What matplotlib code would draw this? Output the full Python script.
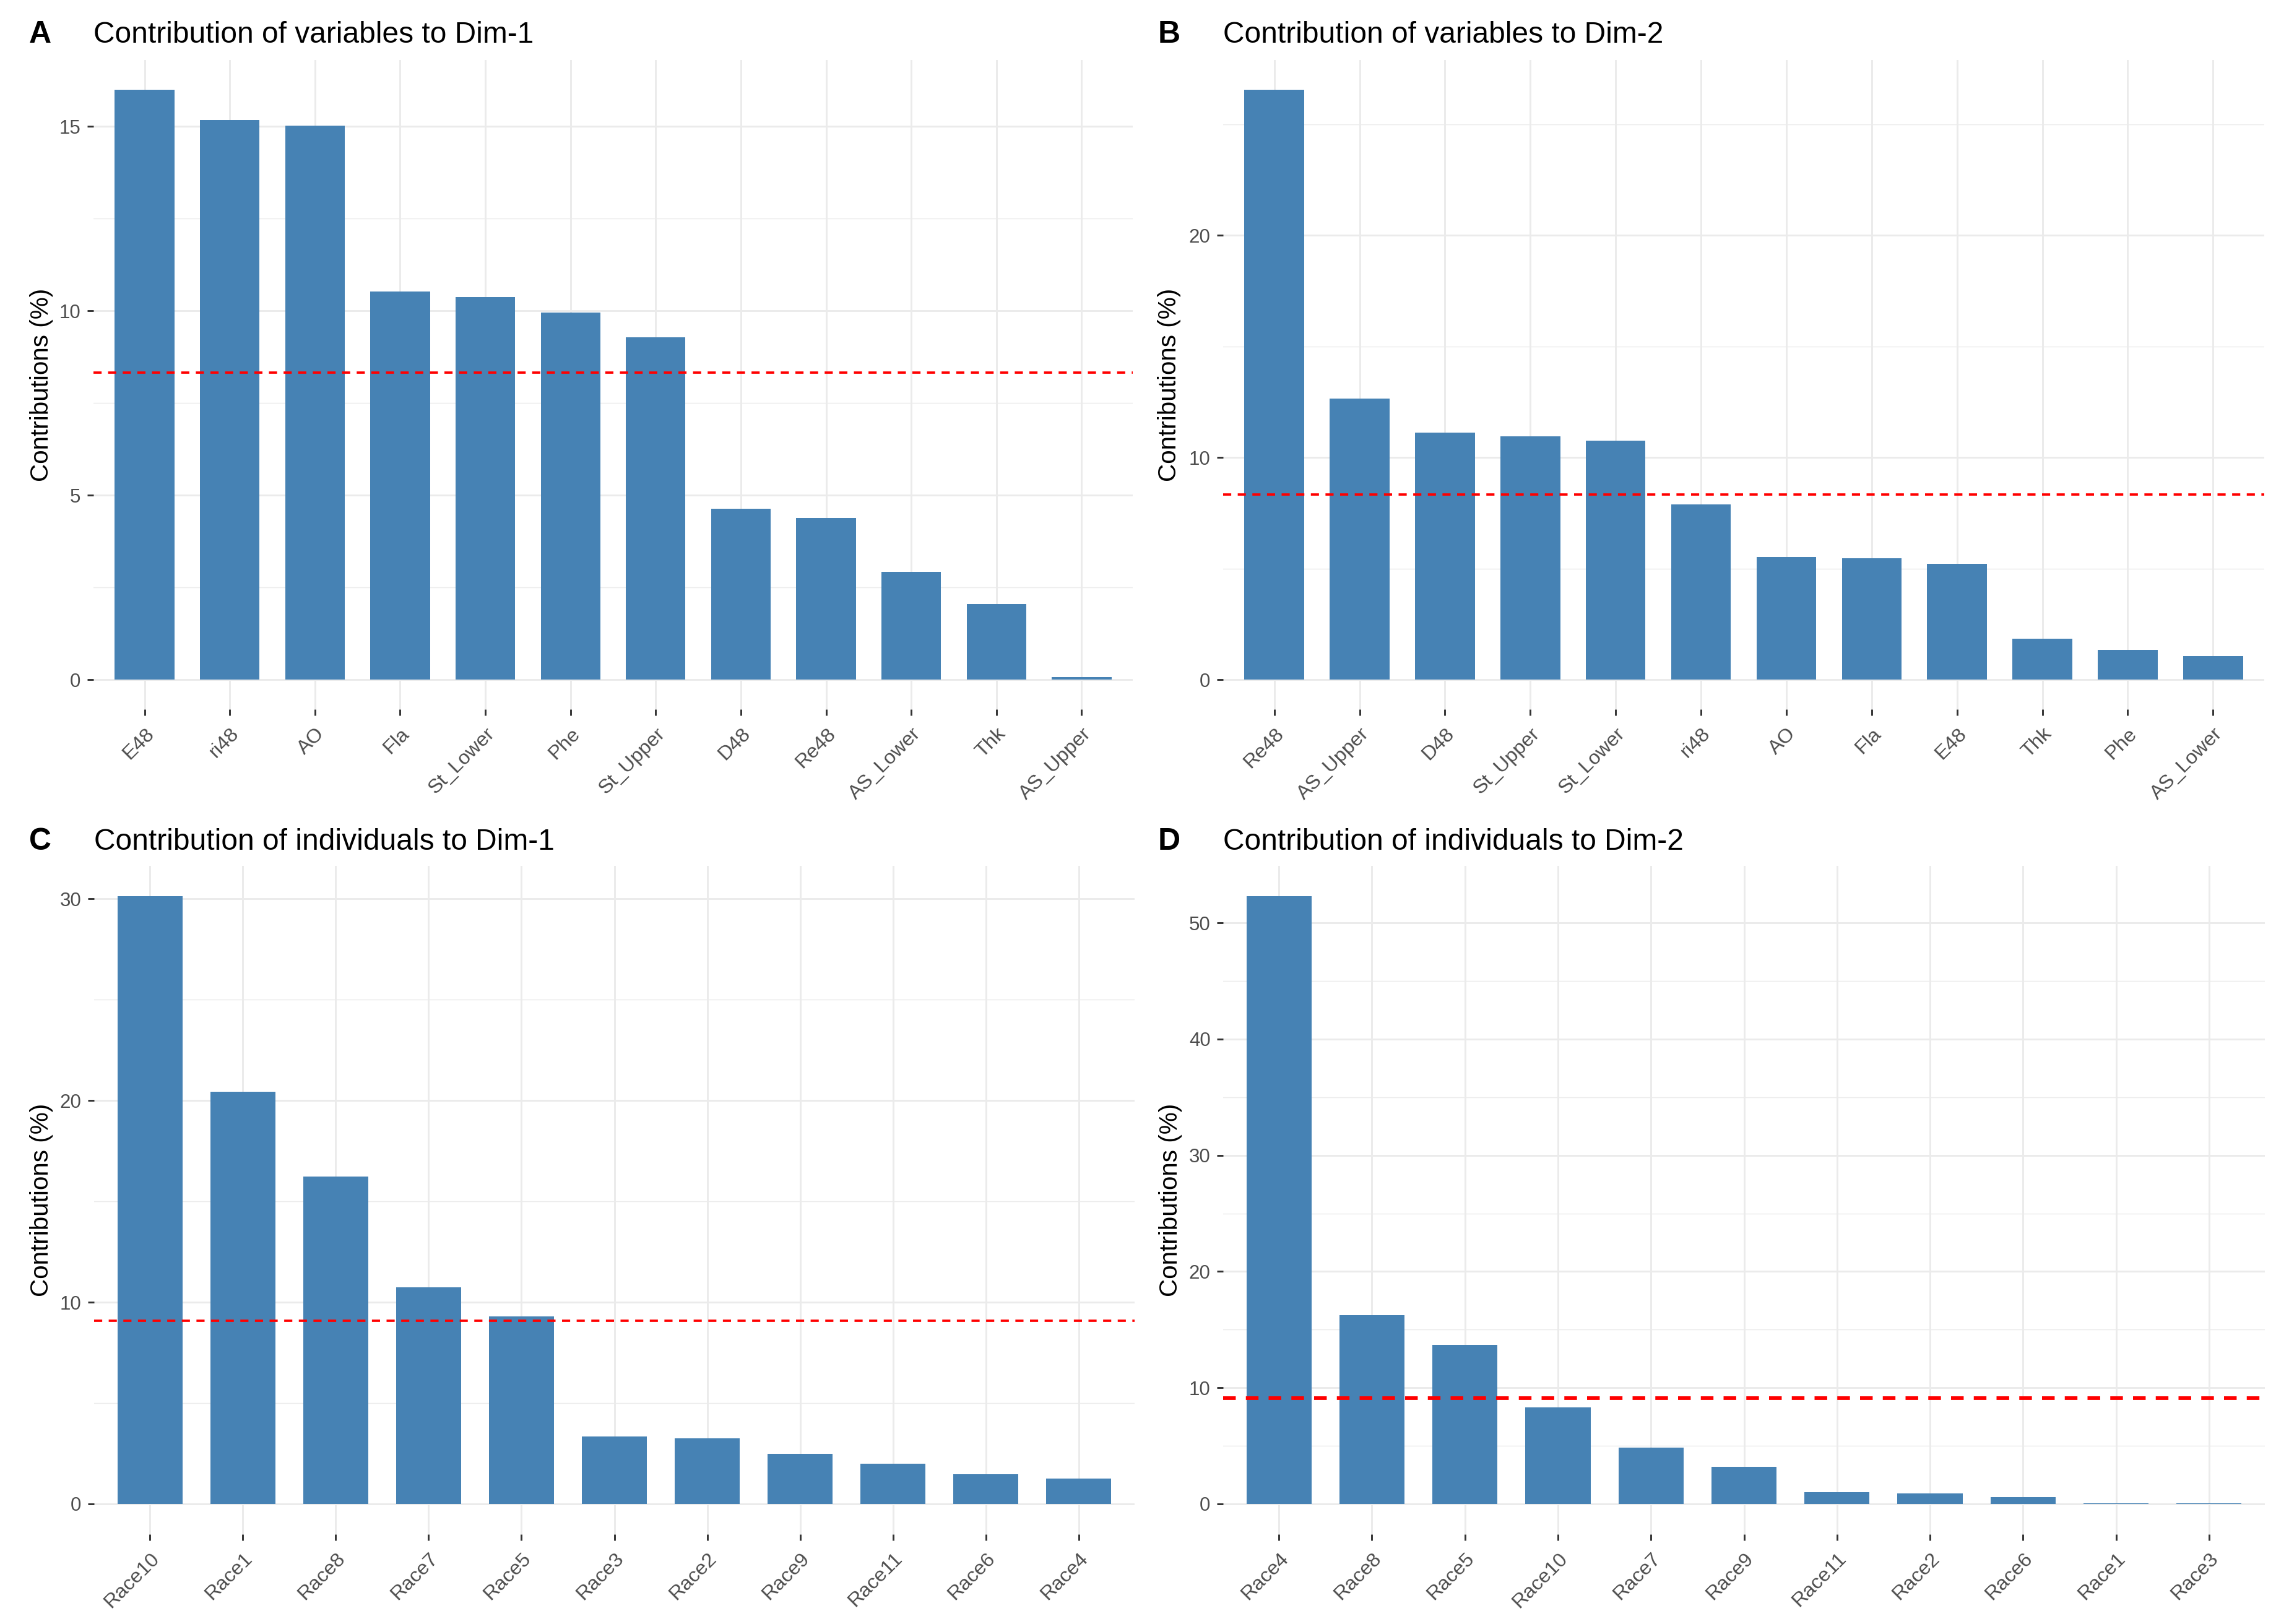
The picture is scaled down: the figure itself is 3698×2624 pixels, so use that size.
import matplotlib
matplotlib.use("Agg")
import matplotlib.pyplot as plt
import numpy as np

plt.rcParams['font.family'] = ['Liberation Sans', 'DejaVu Sans']

# ---- data ----
var_dim1_labels = ["E48", "ri48", "AO", "Fla", "St_Lower", "Phe", "St_Upper",
                   "D48", "Re48", "AS_Lower", "Thk", "AS_Upper"]
var_dim1_values = [16.00, 15.17, 15.02, 10.52, 10.37, 9.96, 9.28,
                   4.63, 4.38, 2.92, 2.05, 0.07]

var_dim2_labels = ["Re48", "AS_Upper", "D48", "St_Upper", "St_Lower", "ri48",
                   "AO", "Fla", "E48", "Thk", "Phe", "AS_Lower"]
var_dim2_values = [26.56, 12.64, 11.11, 10.95, 10.76, 7.90,
                   5.53, 5.46, 5.21, 1.85, 1.34, 1.08]

ind_dim1_labels = ["Race10", "Race1", "Race8", "Race7", "Race5", "Race3",
                   "Race2", "Race9", "Race11", "Race6", "Race4"]
ind_dim1_values = [30.13, 20.43, 16.23, 10.75, 9.31, 3.34,
                   3.24, 2.47, 1.98, 1.47, 1.26]

ind_dim2_labels = ["Race4", "Race8", "Race5", "Race10", "Race7", "Race9",
                   "Race11", "Race2", "Race6", "Race1", "Race3"]
ind_dim2_values = [52.30, 16.26, 13.71, 8.29, 4.84, 3.18,
                   1.03, 0.90, 0.58, 0.06, 0.05]

ref_vars = 100.0 / 12
ref_inds = 100.0 / 11

titles = ["Contribution of variables to Dim-1",
          "Contribution of variables to Dim-2",
          "Contribution of individuals to Dim-1",
          "Contribution of individuals to Dim-2"]
letters = ["A", "B", "C", "D"]

W, H = 3698, 2624
DPI = 300
fig = plt.figure(figsize=(W / DPI, H / DPI), dpi=DPI)

# axes boxes in pixels: left, top, right, bottom
boxes = [(151, 97, 1830, 1146),
         (1976, 97, 3658, 1146),
         (152, 1399, 1833, 2479),
         (1976, 1399, 3659, 2479)]
title_base = [69, 69, 1373, 1373]
letter_x = [47, 1871, 47, 1871]
ylab_x = [67, 1889, 67, 1891]

panels = [
    (var_dim1_labels, var_dim1_values, ref_vars, [0, 5, 10, 15], 0.9),
    (var_dim2_labels, var_dim2_values, ref_vars, [0, 10, 20], 0.9),
    (ind_dim1_labels, ind_dim1_values, ref_inds, [0, 10, 20, 30], 0.9),
    (ind_dim2_labels, ind_dim2_values, ref_inds, [0, 10, 20, 30, 40, 50], 1.4),
]

grid_col = "#EBEBEB"
txt_col = "#4D4D4D"

for i, (labels, values, ref, yticks, dlw) in enumerate(panels):
    l, t, r, b = boxes[i]
    ax = fig.add_axes([l / W, 1 - b / H, (r - l) / W, (b - t) / H])
    n = len(labels)
    x = np.arange(n)
    vmax = max(values)
    ax.set_xlim(-0.6, n - 0.4)
    ax.set_ylim(-0.05 * vmax, 1.05 * vmax)

    # grid
    step = yticks[1] - yticks[0]
    minor = np.arange(step / 2, 1.05 * vmax, step)
    for m in minor:
        ax.axhline(m, color=grid_col, lw=0.35, zorder=0)
    for yt in yticks:
        ax.axhline(yt, color=grid_col, lw=0.7, zorder=0)
    for xi in x:
        ax.axvline(xi, color=grid_col, lw=0.7, zorder=0)

    ax.bar(x, values, width=0.7, color="#4682B4", zorder=2)
    ax.axhline(ref, color="red", lw=dlw, linestyle=(0, (3.5, 2.8)), zorder=3)

    for s in ax.spines.values():
        s.set_visible(False)
    ax.set_xticks(x)
    ax.set_xticklabels(labels, rotation=45, ha='right', va='top',
                       rotation_mode='anchor', fontsize=7.8, color=txt_col)
    ax.set_yticks(yticks)
    ax.set_yticklabels([str(v) for v in yticks], fontsize=7.5, color=txt_col)
    ax.tick_params(axis='both', length=2.4, width=0.7, color="#333333", pad=2.5)
    ax.tick_params(axis='x', pad=3.5)
    ax.set_facecolor("white")

    fig.text(l / W, 1 - title_base[i] / H, titles[i], fontsize=11.5,
             ha='left', va='baseline', color='black')
    fig.text(letter_x[i] / W, 1 - title_base[i] / H, letters[i], fontsize=12,
             fontweight='bold', ha='left', va='baseline', color='black')
    fig.text(ylab_x[i] / W, 1 - ((t + b) / 2) / H, "Contributions (%)",
             fontsize=9.7, rotation=90, ha='center', va='center', color='black')

fig.savefig("out.png", dpi=DPI, facecolor="white")
